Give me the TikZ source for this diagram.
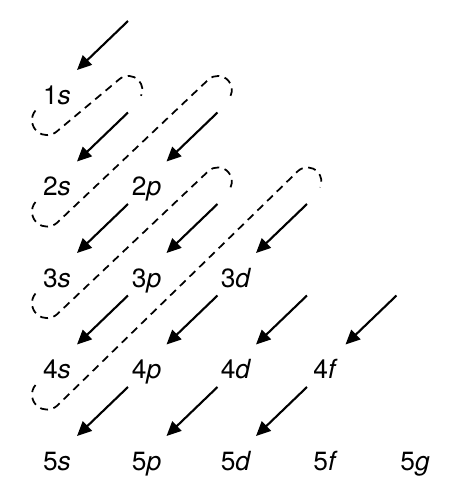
\documentclass[tikz,border=0pt]{standalone}
\usepackage{fontspec}
\setmainfont{TeX Gyre Heros}
\usetikzlibrary{positioning,arrows.meta}

\tikzset{
    orbital/.style={text height=0.72em, text depth=0pt, inner sep=0pt, font=\fontsize{15}{18}\selectfont},
    fillarrow/.style={line width=1.2pt, -{Triangle[length=2.9mm,width=2.6mm]}},
    jump/.style={line width=1pt, dash pattern=on 4.5pt off 3.2pt}
}

\begin{document}
\begin{tikzpicture}[node distance=1.83cm and 1.79cm, on grid]
    \useasboundingbox (-1.14,1.96) rectangle (7.86,-7.88);
    \node[orbital] (1s) {1\textit{s}};
    \node[orbital, below=of 1s] (2s) {2\textit{s}};
    \node[orbital, right=of 2s] (2p) {2\textit{p}};
    \node[orbital, below=of 2s] (3s) {3\textit{s}};
    \node[orbital, right=of 3s] (3p) {3\textit{p}};
    \node[orbital, right=of 3p] (3d) {3\textit{d}};
    \node[orbital, below=of 3s] (4s) {4\textit{s}};
    \node[orbital, right=of 4s] (4p) {4\textit{p}};
    \node[orbital, right=of 4p] (4d) {4\textit{d}};
    \node[orbital, right=of 4d] (4f) {4\textit{f}};
    \node[orbital, below=of 4s] (5s) {5\textit{s}};
    \node[orbital, right=of 5s] (5p) {5\textit{p}};
    \node[orbital, right=of 5p] (5d) {5\textit{d}};
    \node[orbital, right=of 5d] (5f) {5\textit{f}};
    \node[orbital, right=of 5f] (5g) {5\textit{g}};

    \foreach \o in {1s,2s,2p,3s,3p,3d,4s,4p,4d,4f,5s,5p,5d} {
        \coordinate (t-\o) at ([shift={(1.42,1.54)}]\o.center);
        \draw[fillarrow] (t-\o) -- ([shift={(0.40,0.56)}]\o.center);
    }

    \foreach \a/\b in {1s/2s,2s/2p,3s/3p,4s/3d}
        \draw[jump] ([shift={(-0.43,-0.25)}]\a.center) arc[start angle=140,end angle=312,radius=0.3]
            -- ([shift={(-0.18,0.66)}]t-\b) arc[start angle=132,end angle=-25,radius=0.28];
\end{tikzpicture}
\end{document}
